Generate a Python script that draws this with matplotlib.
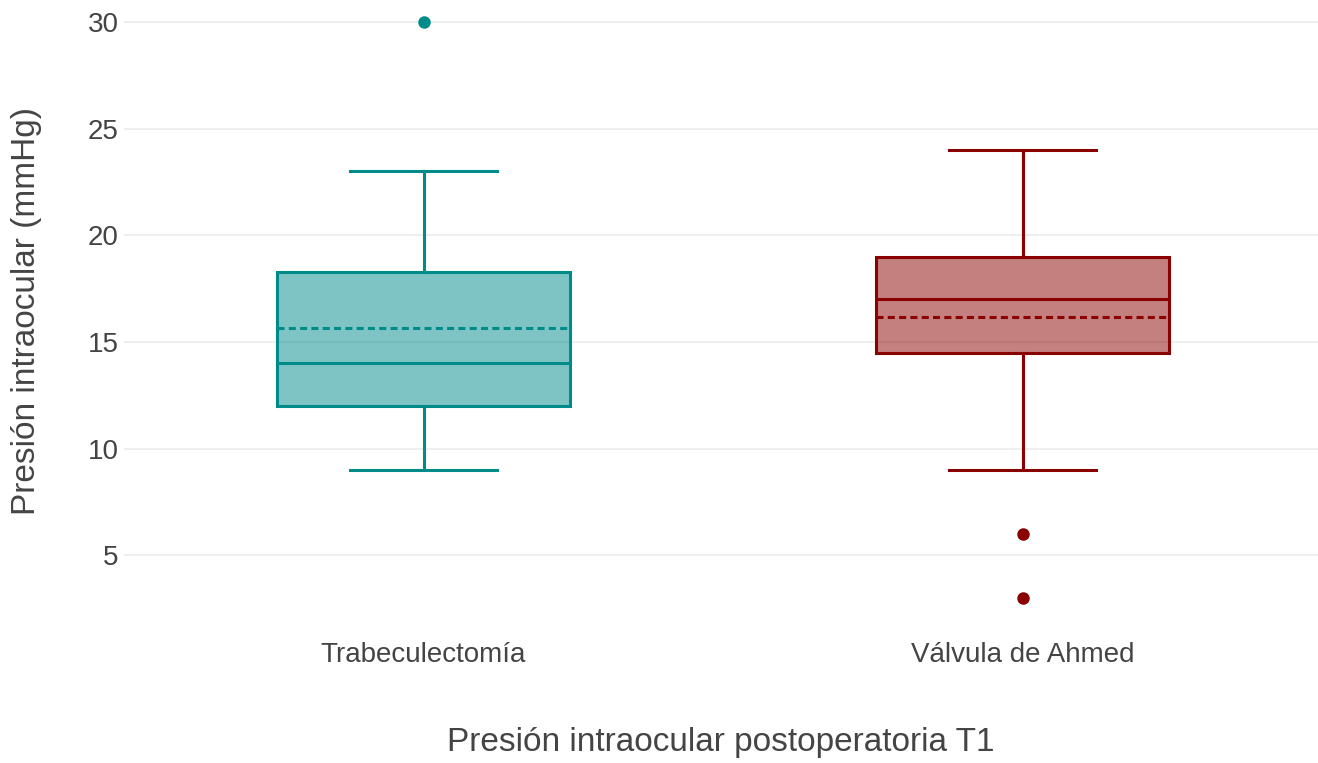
import matplotlib.pyplot as plt

plt.rcParams['font.family'] = ['Liberation Sans', 'DejaVu Sans']

# resumen de cada grupo (mmHg)
grupos = ['Trabeculectomía', 'Válvula de Ahmed']
minimos = [9, 9]
q1 = [12, 14.5]
medianas = [14, 17]
q3 = [18.3, 19]
maximos = [23, 24]
medias = [15.67, 16.18]
atipicos = [[30], [6, 3]]
colores = ['#008b8b', '#8b0000']

W, H = 1318, 763
fig = plt.figure(figsize=(W / 100, H / 100), dpi=100)
ax = fig.add_axes([124 / W, 1 - 630 / H, 1 - 124 / W, 630 / H])

lw = 2.2
for i, g in enumerate(grupos):
    st = [dict(label=g, whislo=minimos[i], q1=q1[i], med=medianas[i], q3=q3[i],
               whishi=maximos[i], mean=medias[i], fliers=atipicos[i])]
    c = colores[i]
    # cuadro con relleno semitransparente, mediana continua y media discontinua
    ax.bxp(st, positions=[i], widths=0.49, capwidths=0.245, patch_artist=True,
           showmeans=True, meanline=True,
           boxprops=dict(facecolor=c + '80', edgecolor=c, linewidth=lw),
           whiskerprops=dict(color=c, linewidth=lw),
           capprops=dict(color=c, linewidth=lw),
           medianprops=dict(color=c, linewidth=lw),
           meanprops=dict(color=c, linewidth=lw, linestyle=(0, (2.3, 1.4))),
           flierprops=dict(marker='o', markerfacecolor=c, markeredgecolor='none',
                           markersize=9))

ax.set_xlim(-0.5, -0.5 + 1194 / 599)
ax.set_ylim(1.5, 31.03)
ax.set_yticks([5, 10, 15, 20, 25, 30])
ax.set_xticks([0, 1])
ax.set_xticklabels(grupos)
ax.tick_params(axis='both', length=0, labelsize=20, colors='#444444')
ax.tick_params(axis='x', pad=9)
ax.tick_params(axis='y', pad=4)
ax.grid(axis='y', color='#eeeeee', linewidth=1.4)
ax.set_axisbelow(True)
for s in ax.spines.values():
    s.set_visible(False)

fig.text(0.5 * (124 + 1318) / W, 1 - 742 / H, 'Presión intraocular postoperatoria T1',
         ha='center', va='center', fontsize=24, color='#444444')
fig.text(27 / W, 1 - 311 / H, 'Presión intraocular (mmHg)', rotation=90,
         ha='center', va='center', fontsize=24, color='#444444')

fig.savefig('out.png', dpi=100)
